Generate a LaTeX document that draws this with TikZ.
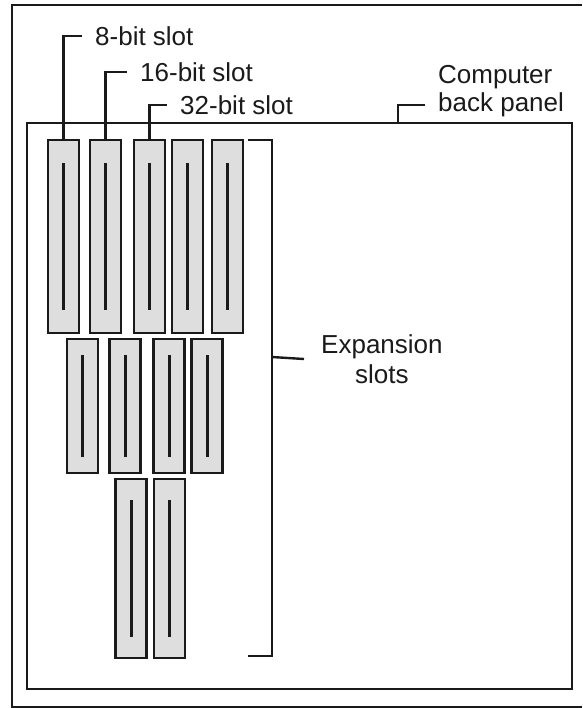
\documentclass[tikz,border=0pt]{standalone}
\usepackage{fontspec}
\setmainfont{Liberation Sans}
\usepackage{xcolor}
\usepackage{tikz}
\usetikzlibrary{positioning}

\definecolor{slotgray}{HTML}{DEDEDE}
\definecolor{ink}{HTML}{1A1A1A}

\begin{document}
\begin{tikzpicture}[
  x=1pt, y=-1pt,
  lead/.style={draw=ink, line width=2.4pt},
  slit/.style={draw=ink, line width=3pt},
  slotbox/.style={rectangle, draw=ink, line width=2.2pt, fill=slotgray,
                  inner sep=0pt, minimum width=31pt,
                  path picture={\draw[slit]
                    ([yshift=-#1]path picture bounding box.north) --
                    ([yshift=#1]path picture bounding box.south);}},
  lbl/.style={anchor=west, inner xsep=13pt, inner ysep=0pt,
              font=\fontsize{26}{30}\selectfont, text=ink}
]
  \useasboundingbox (0,0) rectangle (582,708);
  % outer frame, cut off at the right
  \draw[lead] (582,5) -| (12,707) -- (582,707);

  % back panel
  \node[rectangle, draw=ink, line width=2.4pt, inner sep=0pt,
        minimum width=545pt, minimum height=566pt] (panel) at (299.5,406) {};

  % first row
  \node[slotbox=23pt, minimum height=193pt] (s11) at (63.5,236.5) {};
  \node[slotbox=23pt, minimum height=193pt] (s12) at (105.5,236.5) {};
  \node[slotbox=23pt, minimum height=193pt] (s13) at (149.5,236.5) {};
  \node[slotbox=23pt, minimum height=193pt] (s14) at (187.5,236.5) {};
  \node[slotbox=23pt, minimum height=193pt] (s15) at (227.5,236.5) {};
  % second row
  \node[slotbox=16pt, minimum height=134pt] (s21) at (82.5,406) {};
  \node[slotbox=16pt, minimum height=134pt] (s22) at (125,406) {};
  \node[slotbox=16pt, minimum height=134pt] (s23) at (169,406) {};
  \node[slotbox=16pt, minimum height=134pt] (s24) at (207,406) {};
  % third row
  \node[slotbox=21pt, minimum height=179pt] (s31) at (131,568.5) {};
  \node[slotbox=21pt, minimum height=179pt] (s32) at (169.5,568.5) {};

  % labels
  \node[lbl] (l8) at (82,36) {8-bit slot};
  \node[lbl] (l16) at (127,72) {16-bit slot};
  \node[lbl] (l32) at (167,105) {32-bit slot};
  \node[lbl] (lback) at (425,105) {back panel};
  \node[lbl, anchor=base west] (lcomp) at ([yshift=28pt]lback.base west) {Computer};
  \node[lbl, align=center, inner xsep=17pt] (lexp) at (304,359) {Expansion\\slots};

  \draw[lead] (s11.north) |- (l8.west);
  \draw[lead] (s12.north) |- (l16.west);
  \draw[lead] (s13.north) |- (l32.west);
  \draw[lead] ([xshift=98.5pt]panel.north) |- (lback.west);

  % bracket
  \coordinate (bmid) at (272,357);
  \draw[lead] (248,140) -| (272,656) -- (248,656);
  \draw[lead] (bmid) -- (lexp.west);
\end{tikzpicture}
\end{document}
